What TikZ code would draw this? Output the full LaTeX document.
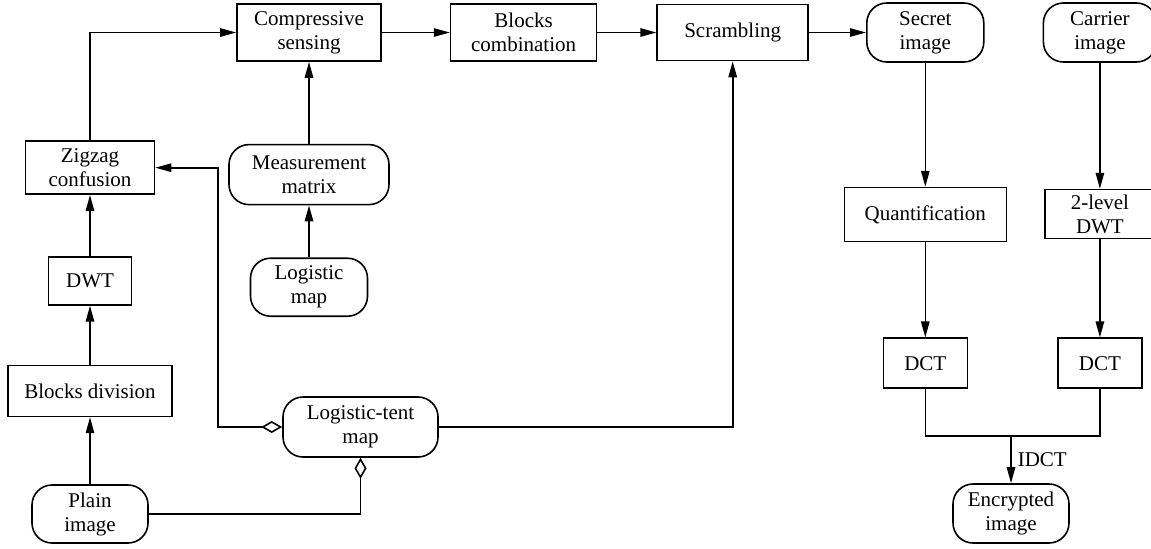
\documentclass[tikz,border=0pt]{standalone}
\usepackage{fontspec}
\setmainfont{Liberation Serif}
\usepackage{tikz}
\usetikzlibrary{positioning,arrows.meta}
\tikzset{
  % --- blocks ----------------------------------------------------------------
  box/.style={draw,line width=0.8pt,align=center,inner sep=0pt},
  proc/.style={box},                          % square-cornered step
  term/.style={box,rounded corners=10pt},     % images and maps
  wh/.style 2 args={minimum width=#1pt,minimum height=#2pt},
  % --- connectors ------------------------------------------------------------
  ar/.style={-{Triangle[length=8pt,width=4.2pt]},line width=0.8pt},
  ln/.style={line width=0.8pt},
  dia/.style={{Diamond[open,length=10.5pt,width=6pt]}-{Triangle[length=8pt,width=4.2pt]},
              line width=0.8pt},
}

\begin{document}
\begin{tikzpicture}[
    x=0.5pt,y=-0.5pt,
    font=\fontsize{10.5}{12}\selectfont]

  \useasboundingbox (0,0) rectangle (1151,548);

  % left column, bottom up
  \node[term,wh={58}{29}] (plain) at (90,514) {Plain\\image};
  \node[proc,wh={82}{25.5},above=33.5pt of plain] (bdiv) {Blocks division};
  \node[proc,wh={41.5}{24},above=29.5pt of bdiv] (dwt) {DWT};
  \node[proc,wh={64.5}{26.5},above=30.5pt of dwt] (zig) {Zigzag\\confusion};

  % top row
  \node[proc,wh={72}{28.5}] (cs) at (309,32.5) {Compressive\\sensing};
  \node[proc,wh={73}{28.5},right=34pt of cs] (bcomb) {Blocks\\combination};
  \node[proc,wh={75.5}{28},right=29.5pt of bcomb] (scr) {Scrambling};
  \node[term,wh={58.5}{29.5},right=28.5pt of scr] (secret) {Secret\\image};
  \node[term,wh={56.5}{29.5},right=29pt of secret] (carrier) {Carrier\\image};

  % measurement chain
  \node[term,wh={80}{30},below=41pt of cs] (mtx) {Measurement\\matrix};
  \node[term,wh={58.5}{29},below=26pt of mtx] (lmap) {Logistic\\map};
  \node[term,wh={77.5}{30}] (ltmap) at (360.5,427) {Logistic-tent\\map};

  % embedding
  \node[proc,wh={81}{27},below=62pt of secret] (quant) {Quantification};
  \node[proc,wh={55}{24.5},below=63pt of carrier] (dwtb) {2-level\\DWT};
  \node[proc,wh={42}{25},below=47.5pt of quant] (dcta) {DCT};
  \node[proc,wh={42}{25},below=49pt of dwtb] (dctb) {DCT};
  \node[term,wh={58}{29.5}] (enc) at (1011,513.5) {Encrypted\\image};
  \coordinate (join) at (1011,436);

  \draw[ar] (plain) -- (bdiv);
  \draw[ar] (bdiv) -- (dwt);
  \draw[ar] (dwt) -- (zig);
  \draw[ar] (zig.north) |- (cs.west);
  \draw[ar] (lmap) -- (mtx);
  \draw[ar] (mtx) -- (cs);
  \draw[ar] (cs) -- (bcomb);
  \draw[ar] (bcomb) -- (scr);
  \draw[ar] (scr.east) -- (scr.east -| secret.west);

  % chaotic keys
  \draw[dia] (ltmap.west) -- ++(-64,0) |- (zig.east);
  \draw[ln,-{Diamond[open,length=10.5pt,width=6pt]}] (plain.east) -| (ltmap.south);
  \draw[ar] (ltmap.east) -| (scr.south);

  \draw[ar] (secret) -- (quant);
  \draw[ar] (quant) -- (dcta);
  \draw[ar] (carrier) -- (dwtb);
  \draw[ar] (dwtb) -- (dctb);
  \draw[ln] (dcta.south) |- (join) -| (dctb.south);
  \draw[ar] (join) -- (enc) node[midway,right,inner sep=3pt]{IDCT};
\end{tikzpicture}
\end{document}
